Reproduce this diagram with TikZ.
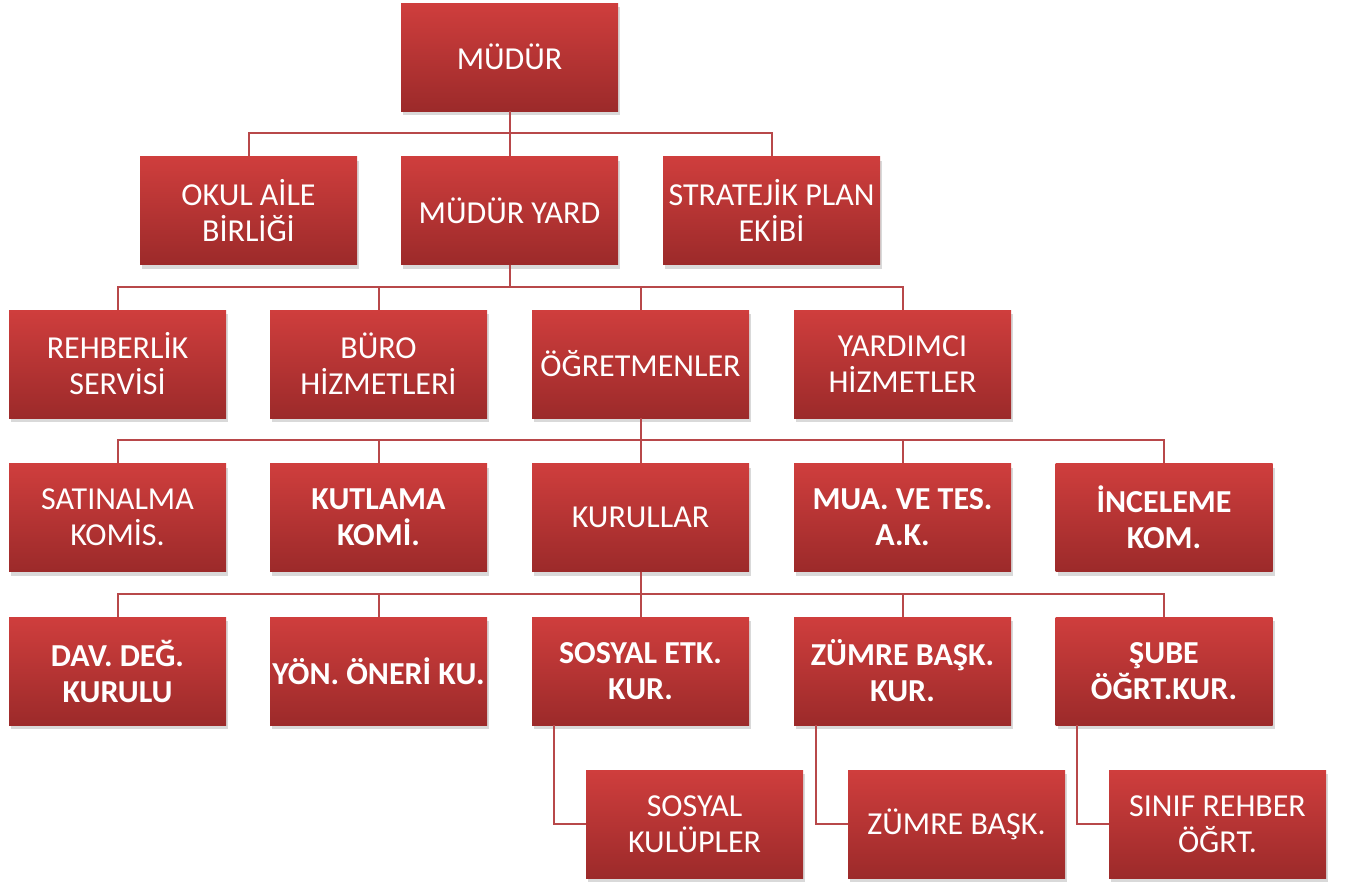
\documentclass[tikz,border=0pt]{standalone}
\usepackage{fontspec}
\setmainfont{Carlito}
\usetikzlibrary{shadows}
\definecolor{boxtop}{RGB}{207,62,61}
\definecolor{boxbot}{RGB}{156,42,42}
\definecolor{linec}{RGB}{184,72,74}
\tikzset{
  orgbox/.style={rectangle, minimum width=217pt, minimum height=108pt, inner sep=1pt,
    top color=boxtop, bottom color=boxbot, text=white, align=center,
    font=\fontsize{32}{36}\selectfont,
    drop shadow={opacity=0.3, shadow xshift=2pt, shadow yshift=-4pt}},
  boldbox/.style={orgbox, font=\fontsize{32}{36}\selectfont\bfseries},
  conn/.style={draw=linec, line width=2pt}
}
\begin{document}
\begin{tikzpicture}[x=1pt,y=-1pt]
\useasboundingbox (0,0) rectangle (1348,886);
% row 1
\node[orgbox] (mudur) at (509.5,57) {MÜDÜR};
% row 2
\node[orgbox] (okul) at (248.5,210.5) {OKUL AİLE\\BİRLİĞİ};
\node[orgbox] (yard) at (509.5,210.5) {MÜDÜR YARD};
\node[orgbox] (strat) at (771.5,210.5) {STRATEJİK PLAN\\EKİBİ};
% row 3
\node[orgbox] (rehber) at (117.5,364) {REHBERLİK\\SERVİSİ};
\node[orgbox] (buro) at (378.5,364) {BÜRO\\HİZMETLERİ};
\node[orgbox] (ogret) at (640.5,364) {ÖĞRETMENLER};
\node[orgbox] (yardh) at (902.5,364) {YARDIMCI\\HİZMETLER};
% row 4
\node[orgbox] (satin) at (117.5,517.5) {SATINALMA\\KOMİS.};
\node[boldbox] (kutlama) at (378.5,517.5) {KUTLAMA\\KOMİ.};
\node[orgbox] (kurul) at (640.5,517.5) {KURULLAR};
\node[boldbox] (mua) at (902.5,517.5) {MUA. VE TES.\\A.K.};
\node[boldbox] (incele) at (1164,517.5) {İNCELEME\\KOM.};
% row 5
\node[boldbox] (dav) at (117.5,671) {DAV. DEĞ.\\KURULU};
\node[boldbox] (yon) at (378.5,671) {YÖN. ÖNERİ KU.};
\node[boldbox] (sosetk) at (640.5,671) {SOSYAL ETK.\\KUR.};
\node[boldbox] (zumk) at (902.5,671) {ZÜMRE BAŞK.\\KUR.};
\node[boldbox] (sube) at (1164,671) {ŞUBE\\ÖĞRT.KUR.};
% row 6
\node[orgbox] (kulup) at (694.5,824) {SOSYAL\\KULÜPLER};
\node[orgbox] (zum) at (956.5,824) {ZÜMRE BAŞK.};
\node[orgbox] (sinif) at (1217.5,824) {SINIF REHBER\\ÖĞRT.};
% connectors
\foreach \c in {okul,yard,strat} \draw[conn] (mudur.south) -- ++(0,22) -| (\c.north);
\foreach \c in {rehber,buro,ogret,yardh} \draw[conn] (yard.south) -- ++(0,22) -| (\c.north);
\foreach \c in {satin,kutlama,kurul,mua,incele} \draw[conn] (ogret.south) -- ++(0,22) -| (\c.north);
\foreach \c in {dav,yon,sosetk,zumk,sube} \draw[conn] (kurul.south) -- ++(0,22) -| (\c.north);
\draw[conn] ([xshift=22pt]sosetk.south west) |- (kulup.west);
\draw[conn] ([xshift=22pt]zumk.south west) |- (zum.west);
\draw[conn] ([xshift=22pt]sube.south west) |- (sinif.west);
\end{tikzpicture}
\end{document}
